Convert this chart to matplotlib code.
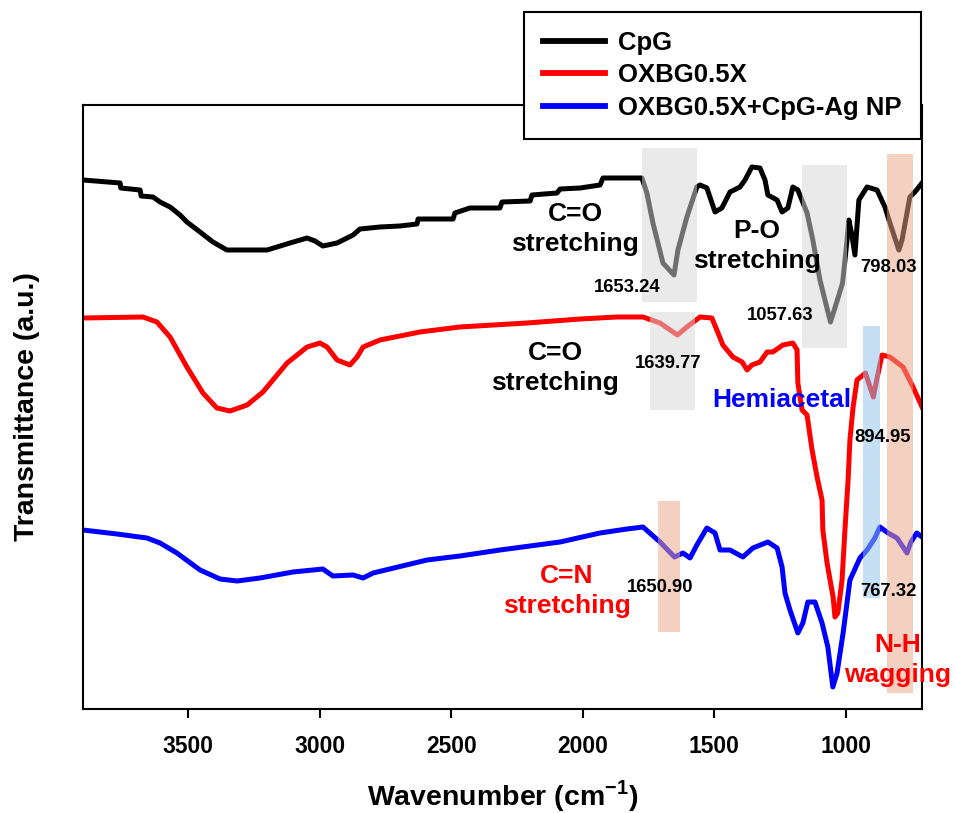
import matplotlib
matplotlib.use("Agg")
import matplotlib.pyplot as plt
from matplotlib.patches import Rectangle
from matplotlib.lines import Line2D

plt.rcParams['font.family'] = ['Liberation Sans', 'DejaVu Sans']
plt.rcParams['font.weight'] = 'bold'
plt.rcParams['mathtext.fontset'] = 'custom'
plt.rcParams['mathtext.bf'] = 'Liberation Sans:bold'
plt.rcParams['mathtext.rm'] = 'Liberation Sans:bold'
plt.rcParams['axes.unicode_minus'] = False

# FTIR spectra, wavenumber (cm-1) vs transmittance (a.u., stacked with offsets)
cpg_wn = [3900, 3759, 3756, 3683, 3679, 3634, 3607, 3569, 3531, 3505, 3455, 3406,
          3353, 3284, 3200, 3113, 3048, 3018, 2988, 2934, 2873, 2847, 2771, 2695,
          2630, 2626, 2493, 2486, 2429, 2315, 2307, 2200, 2193, 2098, 2086, 2010,
          1934, 1923, 1775, 1756, 1733, 1695, 1653, 1638, 1604, 1566, 1554, 1528,
          1497, 1471, 1440, 1402, 1383, 1357, 1326, 1307, 1296, 1261, 1242, 1220,
          1201, 1182, 1147, 1125, 1098, 1058, 1040, 1012, 995, 988, 978, 965, 950,
          919, 881, 851, 832, 798, 786, 756, 737, 710]
cpg_t = [52.9, 52.6, 52.1, 51.9, 51.3, 51.2, 50.7, 50.2, 49.4, 48.7, 47.7, 46.7,
         45.9, 45.9, 45.9, 46.6, 47.1, 46.8, 46.3, 46.6, 47.4, 48.0, 48.2, 48.3,
         48.5, 49.0, 49.0, 49.6, 50.1, 50.1, 50.7, 50.8, 51.4, 51.6, 52.0, 52.1,
         52.4, 53.1, 53.1, 51.6, 48.6, 44.6, 43.4, 45.9, 49.2, 52.2, 52.4, 52.1,
         49.7, 50.1, 51.7, 52.2, 52.9, 54.2, 54.1, 52.9, 51.4, 50.9, 49.7, 50.1,
         52.2, 51.9, 49.6, 46.9, 42.9, 38.7, 40.2, 42.6, 46.9, 48.9, 47.6, 45.4, 50.9,
         52.2, 51.9, 50.2, 48.6, 45.9, 46.9, 51.2, 51.7, 52.6]

oxbg_wn = [3900, 3672, 3619, 3569, 3505, 3444, 3391, 3341, 3276, 3216, 3124, 3048,
           2999, 2972, 2934, 2885, 2858, 2835, 2771, 2619, 2467, 2212, 2010, 1870,
           1771, 1706, 1640, 1604, 1554, 1509, 1490, 1467, 1429, 1394, 1375, 1357,
           1326, 1299, 1277, 1239, 1201, 1185, 1182, 1166, 1147, 1128, 1109, 1090,
           1087, 1071, 1048, 1041, 1030, 1014, 1003, 991, 984, 972, 957, 925, 895,
           880, 862, 832, 782, 744, 710]
oxbg_t = [39.1, 39.2, 38.7, 37.2, 34.2, 31.6, 30.1, 29.8, 30.4, 31.7, 34.6, 36.2,
          36.6, 36.2, 34.9, 34.4, 35.2, 36.2, 36.9, 37.7, 38.2, 38.6, 39.0, 39.2,
          39.2, 38.6, 37.4, 38.2, 39.2, 39.1, 37.9, 36.4, 35.2, 34.7, 33.9, 34.4,
          34.7, 35.7, 35.7, 36.4, 36.6, 35.9, 32.6, 29.9, 29.4, 25.9, 23.2, 20.9,
          17.9, 14.6, 11.2, 9.2, 9.6, 12.9, 17.9, 22.9, 26.9, 30.2, 32.9, 33.6, 31.2,
          33.2, 35.4, 35.2, 34.2, 32.2, 30.2]

ag_wn = [3900, 3771, 3657, 3607, 3543, 3455, 3379, 3314, 3227, 3102, 2988, 2950,
         2873, 2835, 2797, 2592, 2467, 2315, 2086, 1934, 1832, 1771, 1706, 1651,
         1619, 1592, 1566, 1528, 1497, 1478, 1440, 1391, 1353, 1296, 1261, 1242,
         1231, 1212, 1182, 1163, 1144, 1117, 1090, 1068, 1049, 1033, 1010, 984,
         946, 919, 889, 870, 839, 805, 767, 752, 730, 710]
ag_t = [17.9, 17.5, 17.1, 16.6, 15.6, 13.9, 13.0, 12.8, 13.1, 13.7, 14.0, 13.3,
        13.4, 13.1, 13.6, 14.9, 15.3, 15.9, 16.7, 17.6, 18.0, 18.2, 16.7, 15.2,
        15.6, 15.1, 16.4, 18.1, 17.6, 15.9, 15.9, 15.2, 16.1, 16.7, 16.1, 14.2,
        11.6, 9.9, 7.6, 8.6, 10.7, 10.7, 8.6, 6.2, 2.2, 3.6, 7.6, 12.9,
        15.1, 15.9, 17.1, 18.2, 17.6, 17.1, 15.6, 16.7, 17.6, 17.2]

series_names = ['CpG', 'OXBG0.5X', 'OXBG0.5X+CpG-Ag NP']
series_colors = ['black', 'red', 'blue']

# highlighted bands: (wn high, wn low, t low, t high, color)
bands = [
    (1775, 1566, 40.7, 56.1, '#d7d7d7'),
    (1167, 995, 36.1, 54.4, '#d7d7d7'),
    (1744, 1573, 29.9, 39.7, '#d7d7d7'),
    (935, 870, 11.1, 38.3, '#91c3eb'),
    (843, 744, 1.6, 55.5, '#eba587'),
    (1714, 1630, 7.7, 20.8, '#eba587'),
]

fig = plt.figure(figsize=(9.55, 8.13), dpi=100)
ax = fig.add_axes([83/955, 1-709/813, 839/955, 604/813])

for wn, t, c in zip([cpg_wn, oxbg_wn, ag_wn], [cpg_t, oxbg_t, ag_t], series_colors):
    ax.plot(wn, t, color=c, lw=3.6, solid_joinstyle='round', zorder=2)

for hi, lo, b, top, c in bands:
    ax.add_patch(Rectangle((lo, b), hi - lo, top - b, facecolor=c, edgecolor='none',
                           alpha=0.52, zorder=3))

ax.set_xlim(3900, 710)
ax.set_ylim(0, 60.4)
ax.set_xticks([3500, 3000, 2500, 2000, 1500, 1000])
ax.set_yticks([])
ax.tick_params(axis='x', direction='out', length=6.5, width=1.5, labelsize=16.5, pad=12)
for lab in ax.get_xticklabels():
    lab.set_fontweight('bold')
for s in ax.spines.values():
    s.set_linewidth(1.5)

ax.set_xlabel('Wavenumber (cm$^{\\mathbf{-1}}$)', fontsize=20.5, fontweight='bold', labelpad=15)
ax.set_ylabel('Transmittance (a.u.)', fontsize=20.5, fontweight='bold', labelpad=31)

big = dict(fontsize=19, fontweight='bold', ha='center', va='center', linespacing=1.3, zorder=5)
small = dict(fontsize=13.3, fontweight='bold', ha='center', va='center', zorder=5)

ax.text(2029, 48.0, 'C=O\nstretching', color='black', **big)
ax.text(2105, 34.1, 'C=O\nstretching', color='black', **big)
ax.text(1337, 46.3, 'P-O\nstretching', color='black', **big)
ax.text(1242, 30.9, 'Hemiacetal', color='blue', **big)
ax.text(2060, 11.8, 'C=N\nstretching', color='red', **big)
ax.text(801, 4.9, 'N-H\nwagging', color='red', **big)

ax.text(1832, 42.2, '1653.24', **small)
ax.text(1250, 39.4, '1057.63', **small)
ax.text(839, 44.2, '798.03', **small)
ax.text(1676, 34.6, '1639.77', **small)
ax.text(858, 27.2, '894.95', **small)
ax.text(1706, 12.2, '1650.90', **small)
ax.text(839, 11.7, '767.32', **small)

handles = [Line2D([], [], color=c, lw=4.2) for c in series_colors]
leg = ax.legend(handles, series_names, loc='upper left',
                bbox_to_anchor=(524/955, 1-12/813), bbox_transform=fig.transFigure,
                borderaxespad=0, fancybox=False, framealpha=1, edgecolor='black',
                prop={'weight': 'bold', 'size': 18.5}, handlelength=2.4,
                handletextpad=0.5, borderpad=0.75, labelspacing=0.32)
leg.get_frame().set_linewidth(1.5)
leg.set_zorder(10)

fig.savefig('out.png', dpi=100)
